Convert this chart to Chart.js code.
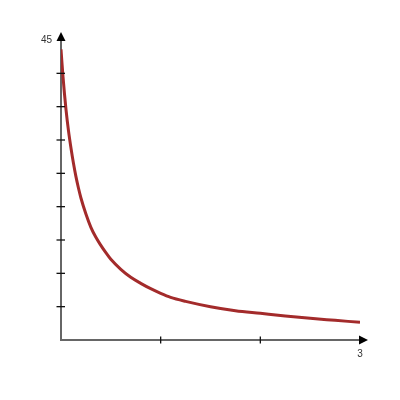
<!DOCTYPE html>
<html>
<head>
<meta charset="utf-8">
<script src="https://cdn.jsdelivr.net/npm/chart.js@4"></script>
<style>
html,body{margin:0;padding:0;background:#fff;}
#c{display:block;}
</style>
</head>
<body>
<canvas id="c" width="400" height="400"></canvas>
<script>
const xValues = [0, 0.01, 0.02, 0.035, 0.05, 0.075, 0.1, 0.125, 0.15, 0.175, 0.2, 0.25, 0.3, 0.35, 0.4, 0.45, 0.5, 0.6, 0.7, 0.8, 0.9, 1.0, 1.1, 1.25, 1.5, 1.75, 2.0, 2.25, 2.5, 2.75, 3.0];
const yValues = [43.6, 41.5, 39.5, 36.9, 34.6, 31.4, 28.8, 26.5, 24.5, 22.8, 21.3, 18.9, 16.9, 15.4, 14.2, 13.1, 12.1, 10.6, 9.4, 8.5, 7.7, 7.0, 6.4, 5.8, 5.0, 4.4, 4.0, 3.6, 3.25, 2.95, 2.65];
const xTicks = [1, 2, 3];
const yTicks = [5, 10, 15, 20, 25, 30, 35, 40, 45];
const xLabelShown = [3];
const yLabelShown = [45];

const axesPlugin = {
  id: 'axesArrows',
  afterDraw(chart) {
    const ctx = chart.ctx;
    const xs = chart.scales.x, ys = chart.scales.y;
    const x0 = xs.getPixelForValue(0), y0 = ys.getPixelForValue(0);
    const xEnd = xs.getPixelForValue(xs.max), yTop = ys.getPixelForValue(ys.max);
    ctx.save();
    ctx.strokeStyle = '#111';
    ctx.lineWidth = 1.3;
    yTicks.forEach(v => {
      if (v === ys.max) return;
      const p = ys.getPixelForValue(v);
      ctx.beginPath(); ctx.moveTo(x0 - 4.5, p); ctx.lineTo(x0 + 4, p); ctx.stroke();
    });
    xTicks.forEach(v => {
      if (v === xs.max) return;
      const p = xs.getPixelForValue(v);
      ctx.beginPath(); ctx.moveTo(p, y0 - 3.5); ctx.lineTo(p, y0 + 3.5); ctx.stroke();
    });
    ctx.fillStyle = '#000';
    ctx.beginPath();
    ctx.moveTo(x0, yTop - 8); ctx.lineTo(x0 - 4.5, yTop + 1); ctx.lineTo(x0 + 4.5, yTop + 1); ctx.closePath(); ctx.fill();
    ctx.beginPath();
    ctx.moveTo(xEnd + 8, y0); ctx.lineTo(xEnd - 1, y0 - 4.5); ctx.lineTo(xEnd - 1, y0 + 4.5); ctx.closePath(); ctx.fill();
    ctx.restore();
  }
};

new Chart(document.getElementById('c'), {
  type: 'scatter',
  data: {
    datasets: [{
      data: xValues.map((x, i) => ({x: x, y: yValues[i]})),
      showLine: true,
      borderColor: '#a32b2b',
      borderWidth: 3,
      pointRadius: 0,
      cubicInterpolationMode: 'monotone',
      fill: false
    }]
  },
  options: {
    responsive: false,
    devicePixelRatio: 1,
    animation: false,
    layout: { padding: { left: 0, top: 40, right: 40, bottom: 0 } },
    plugins: { legend: { display: false }, tooltip: { enabled: false } },
    scales: {
      x: {
        type: 'linear', min: 0, max: 3,
        afterFit(s) { s.height = 60; },
        afterBuildTicks(s) { s.ticks = xTicks.map(v => ({value: v})); },
        grid: { display: true, drawOnChartArea: false, drawTicks: false },
        border: { display: true, color: '#666', width: 2 },
        ticks: {
          padding: 8, color: '#333', font: { family: 'Arial, Liberation Sans', size: 10 },
          maxRotation: 0, autoSkip: false,
          callback: v => xLabelShown.includes(v) ? String(v) : ''
        }
      },
      y: {
        type: 'linear', min: 0, max: 45,
        afterFit(s) { s.width = 61; },
        afterBuildTicks(s) { s.ticks = yTicks.map(v => ({value: v})); },
        grid: { display: true, drawOnChartArea: false, drawTicks: false },
        border: { display: true, color: '#666', width: 2 },
        ticks: {
          padding: 9, color: '#333', font: { family: 'Arial, Liberation Sans', size: 10 },
          autoSkip: false,
          callback: v => yLabelShown.includes(v) ? String(v) : ''
        }
      }
    }
  },
  plugins: [axesPlugin]
});
</script>
</body>
</html>
